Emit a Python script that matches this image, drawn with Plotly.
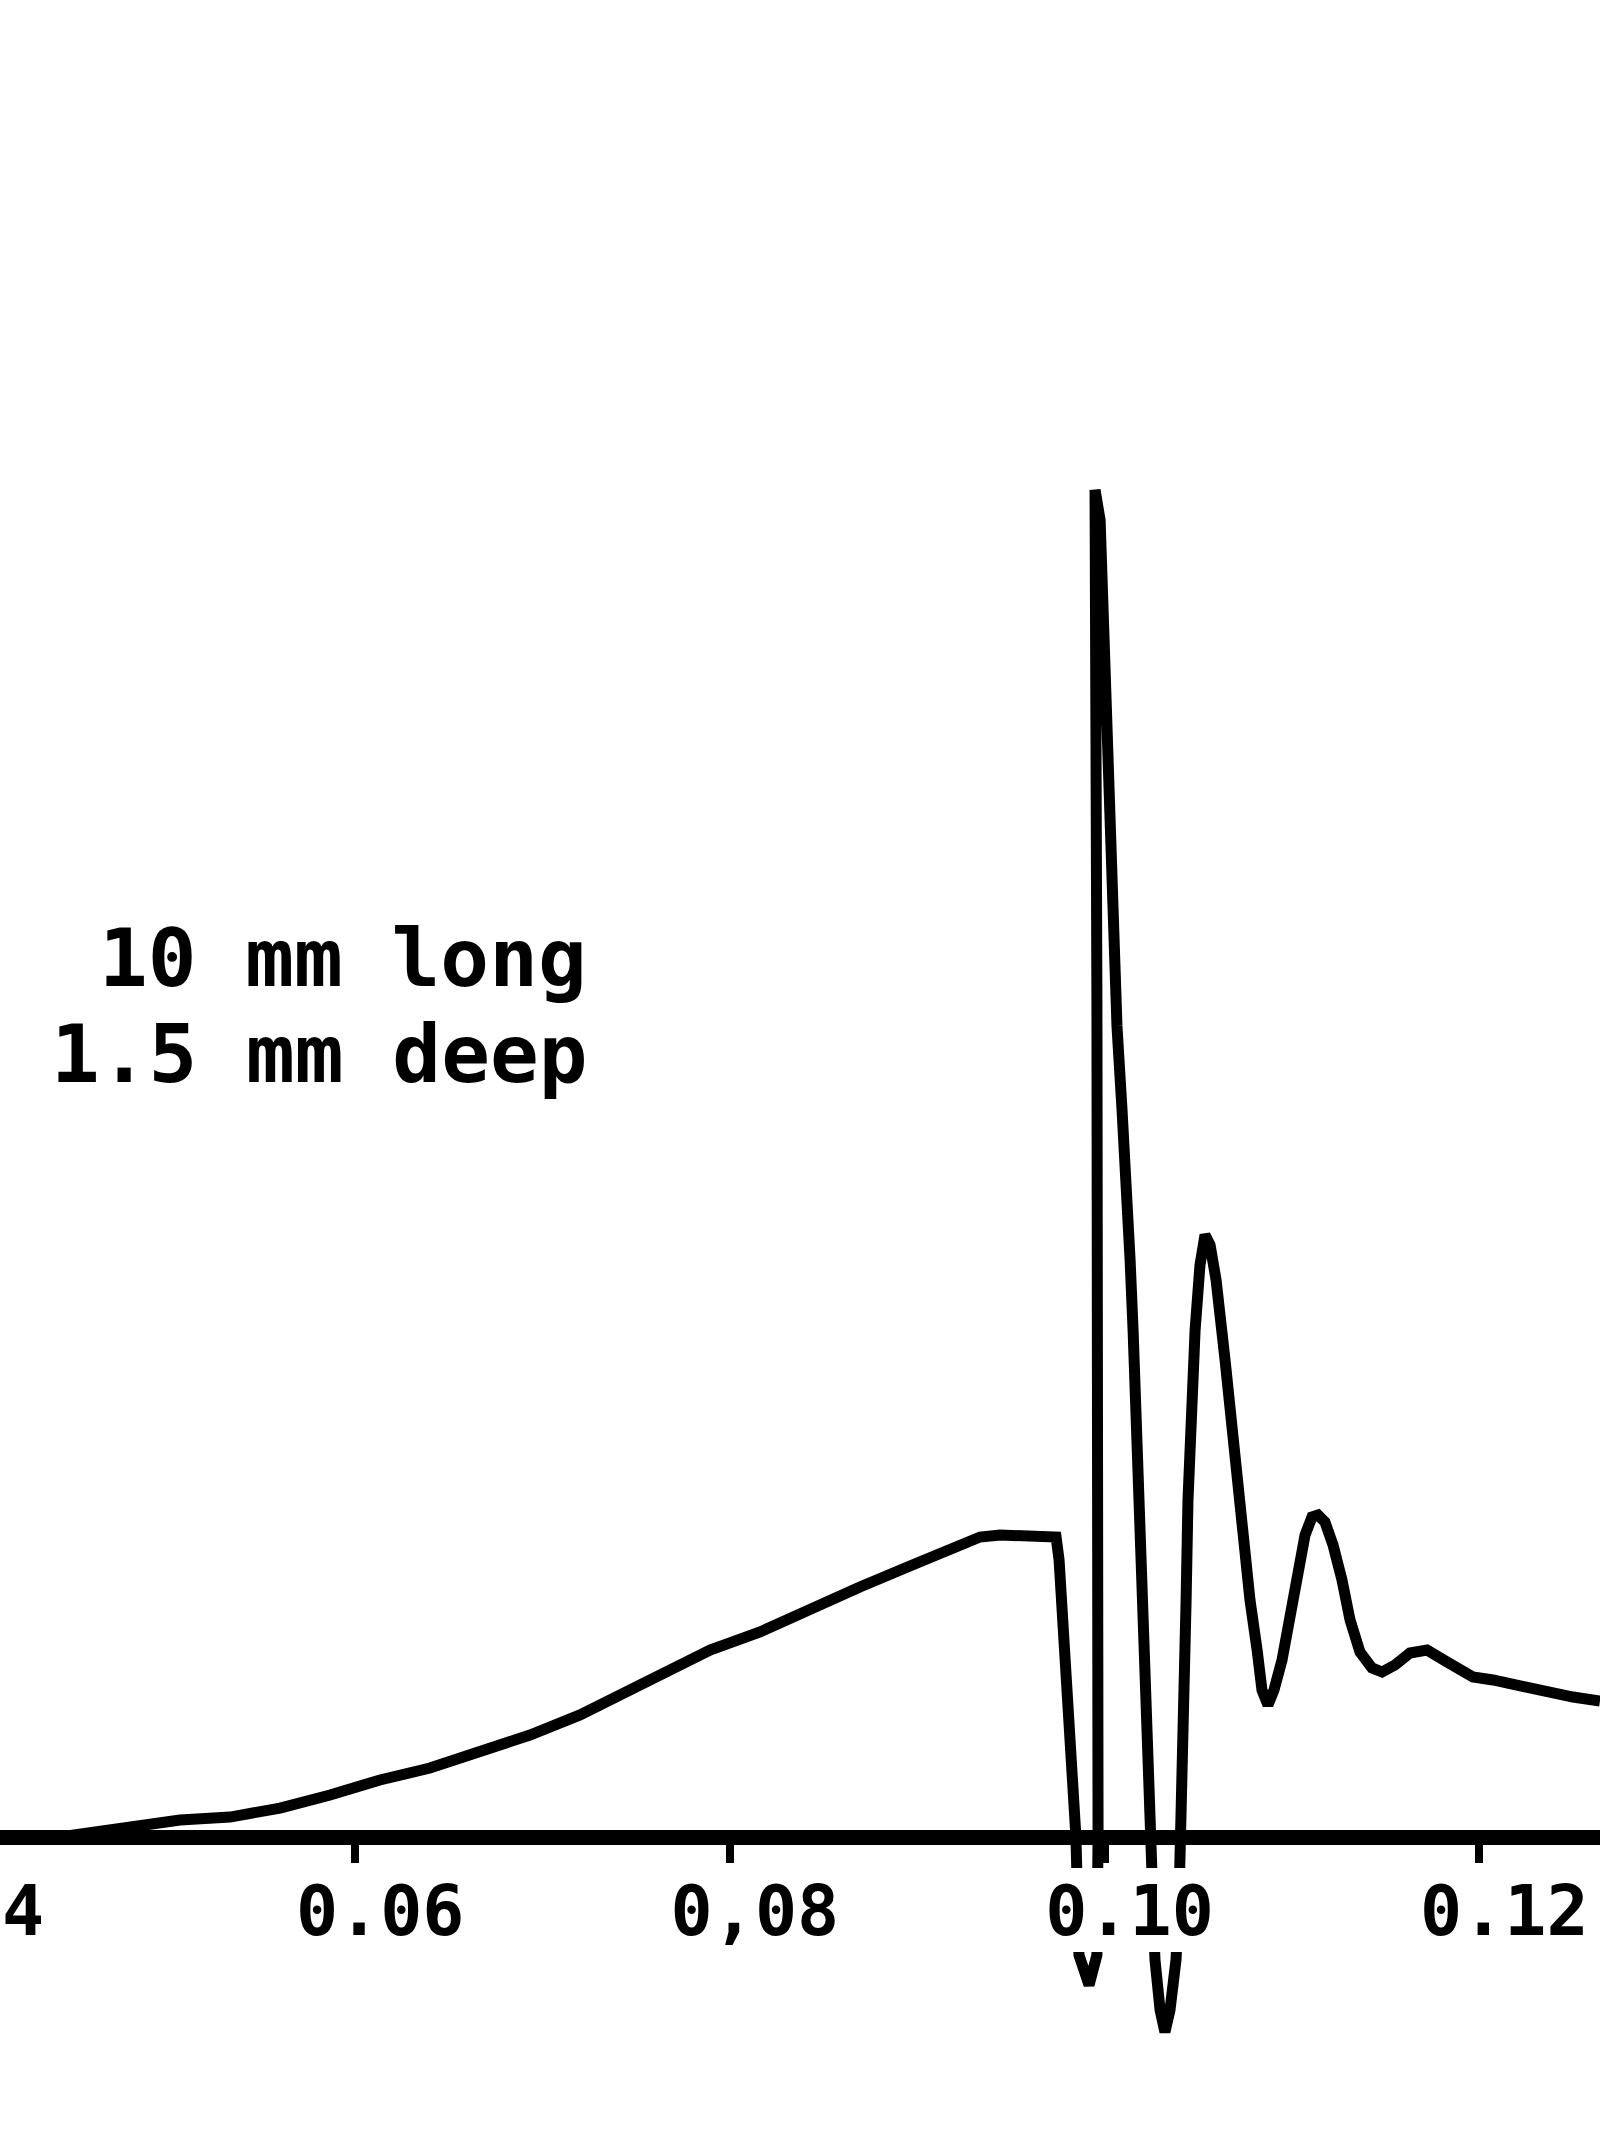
import plotly.graph_objects as go

# ---- data (x: axis units, y: relative amplitude, main peak = 1) ----
x_vals = [0.04424, 0.04681, 0.05065, 0.05332, 0.05599, 0.05866, 0.06132, 0.06399, 0.06666,
          0.06933, 0.07200, 0.07307, 0.07627, 0.07894, 0.08161, 0.08428, 0.08694, 0.08961,
          0.09228, 0.09335, 0.09442, 0.09671, 0.09741,
          0.09757, 0.09778, 0.09805, 0.09826, 0.09847, 0.09863, 0.09917, 0.09959, 0.09965,
          0.09959, 0.09954, 0.09949,
          0.09976, 0.09992, 0.10013, 0.10034, 0.10045, 0.10066, 0.10093, 0.10109, 0.10136,
          0.10152, 0.10168, 0.10200, 0.10226, 0.10242, 0.10253, 0.10269, 0.10296, 0.10322,
          0.10349, 0.10381, 0.10397, 0.10402,
          0.10413, 0.10435, 0.10445, 0.10456, 0.10483, 0.10509, 0.10536, 0.10563, 0.10595,
          0.10643, 0.10691, 0.10733, 0.10776, 0.10814, 0.10840, 0.10872, 0.10904, 0.10947,
          0.10990, 0.11032, 0.11070, 0.11107, 0.11139, 0.11176, 0.11219, 0.11267, 0.11310,
          0.11363, 0.11427, 0.11481, 0.11550, 0.11630, 0.11721, 0.11828, 0.11966, 0.12073,
          0.12233, 0.12377, 0.12500, 0.12644]
amp = [0.0, 0.0052, 0.0126, 0.0148, 0.0215, 0.0312, 0.0423, 0.0512, 0.0624,
       0.0757, 0.0906, 0.0980, 0.1203, 0.1388, 0.1522, 0.1700, 0.1856, 0.2012,
       0.2160, 0.2227, 0.2242, 0.2242, 0.2227,
       0.2056, 0.1611, 0.1017, 0.0423, 0.0, -0.0876, -0.1099, -0.0876, 0.0,
       0.6214, 0.9183, 1.0000,
       0.9777, 0.9109, 0.8293, 0.7624, 0.6585, 0.6021, 0.5397, 0.4803, 0.4284,
       0.3764, 0.3059, 0.1834, 0.0720, 0.0, -0.0468, -0.0913, -0.1284, -0.1448,
       -0.1284, -0.0913, -0.0468, 0.0,
       0.1017, 0.1759, 0.2502, 0.3022, 0.3764, 0.4246, 0.4469, 0.4395, 0.4135,
       0.3541, 0.2873, 0.2279, 0.1759, 0.1388, 0.1091, 0.0980, 0.1091, 0.1314,
       0.1611, 0.1982, 0.2242, 0.2376, 0.2390, 0.2339, 0.2168, 0.1908, 0.1611,
       0.1373, 0.1255, 0.1225, 0.1277, 0.1366, 0.1388, 0.1299, 0.1188, 0.1166,
       0.1114, 0.1069, 0.1039, 0.1010]

tick_vals = [0.06, 0.08, 0.10, 0.12]
tick_text = ["0.06", "0,08", "0.10", "0.12"]
cut_label = "4"          # visible remainder of the "0.04" label at the left edge
note_lines = ["10 mm long", "1.5 mm deep"]

# ---- layout geometry ----
W, H = 1600, 2133
X_RANGE = [0.041041, 0.126442]
PX_PER_UNIT = 1347.0
BASE_PX = 1837.0
TOP_CLIP_PX = 1868.0
LOW_TOP_PX, LOW_BOT_PX = 1952.0, 2045.0

def frac(py):
    return 1 - py / H

FONT = "DejaVu Sans Mono"
line_style = dict(color="black", width=11)

fig = go.Figure()
fig.add_trace(go.Scatter(x=x_vals, y=amp, mode="lines", line=line_style,
                         xaxis="x", yaxis="y", showlegend=False, hoverinfo="skip"))
fig.add_trace(go.Scatter(x=x_vals, y=amp, mode="lines", line=line_style,
                         xaxis="x2", yaxis="y2", showlegend=False, hoverinfo="skip"))

fig.update_layout(
    width=W, height=H,
    margin=dict(l=0, r=0, t=0, b=0),
    paper_bgcolor="white", plot_bgcolor="white",
    xaxis=dict(range=X_RANGE, domain=[0, 1], anchor="free", position=frac(BASE_PX),
               showline=True, linewidth=15, linecolor="black",
               ticks="outside", ticklen=18, tickwidth=8, tickcolor="black",
               tickvals=tick_vals, ticktext=tick_text, ticklabelshift=25,
               ticklabelstandoff=-12,
               tickfont=dict(family=FONT, size=70, color="black", weight="bold"),
               showgrid=False, zeroline=False),
    yaxis=dict(domain=[frac(TOP_CLIP_PX), 1],
               range=[-(TOP_CLIP_PX - BASE_PX) / PX_PER_UNIT, BASE_PX / PX_PER_UNIT],
               visible=False),
    xaxis2=dict(range=X_RANGE, domain=[0, 1], anchor="y2", matches="x", visible=False),
    yaxis2=dict(domain=[frac(LOW_BOT_PX), frac(LOW_TOP_PX)],
                range=[-(LOW_BOT_PX - BASE_PX) / PX_PER_UNIT, -(LOW_TOP_PX - BASE_PX) / PX_PER_UNIT],
                visible=False),
)

fig.add_annotation(text=note_lines[0], xref="paper", yref="paper", x=589 / W, y=frac(958),
                   xanchor="right", yanchor="middle", showarrow=False,
                   font=dict(family=FONT, size=81, color="black", weight="bold"))
fig.add_annotation(text=note_lines[1], xref="paper", yref="paper", x=589 / W, y=frac(1054),
                   xanchor="right", yanchor="middle", showarrow=False,
                   font=dict(family=FONT, size=81, color="black", weight="bold"))
fig.add_annotation(text=cut_label, xref="paper", yref="paper", x=46 / W, y=frac(1911),
                   xanchor="right", yanchor="middle", showarrow=False,
                   font=dict(family=FONT, size=70, color="black", weight="bold"))

fig.write_html("out.html", config={"displayModeBar": False},
               post_script="document.body.style.margin='0';document.body.style.overflow='hidden';")
